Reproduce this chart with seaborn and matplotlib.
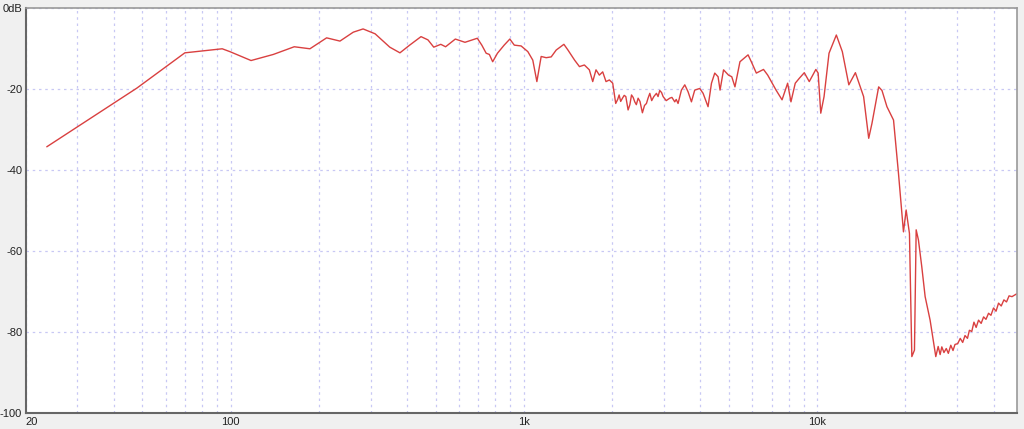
import numpy as np
import pandas as pd
import matplotlib
matplotlib.use("Agg")
import matplotlib.pyplot as plt
from matplotlib.ticker import FixedLocator, FixedFormatter, NullFormatter
import seaborn as sns

#### Données (fréquence en Hz, niveau en dB)
freq = [23.6, 47.9, 69.8, 93.6, 99.4, 117.4, 139.8, 164.8, 186.4, 212.5, 236, 262, 283,
        311, 349, 378, 408, 446, 471, 493, 521, 541, 584, 630, 694, 719, 744, 763,
        783, 813, 857, 896, 928, 979, 1032, 1073, 1108, 1146, 1192, 1240, 1290, 1370,
        1414, 1490, 1548, 1609, 1673, 1718, 1763, 1810, 1858, 1907, 1958, 2010,
        2058, 2090, 2114, 2140, 2170, 2200, 2228, 2268, 2300, 2330, 2360, 2390, 2420,
        2454, 2490, 2538, 2580, 2620, 2650, 2690, 2730, 2776, 2834, 2870, 2908, 2950,
        2986, 3060, 3146, 3200, 3272, 3310, 3358, 3400, 3448, 3540, 3632, 3730, 3828,
        3982, 4088, 4250, 4366, 4480, 4598, 4670, 4800, 4990, 5120, 5250,
        5460, 5820, 5970, 6210, 6570, 6790, 7250, 7600, 7940, 8150, 8430, 8700, 9050,
        9410, 9910, 10090, 10300, 10570, 10990, 11640, 12200, 12840, 13520, 14420,
        15010, 15400, 16230, 16660, 17320, 18240, 18960, 19720, 20140, 20670, 21060,
        21500, 21790, 22180, 22770, 23380, 24310, 25420, 25900, 26300, 26650, 27100,
        27600, 28050, 28600, 29100, 29560, 30200, 30800, 31400, 31980, 32600, 33100,
        33720, 34300, 34900, 35560, 36300, 37000, 37700, 38470, 39200, 40000, 40800,
        41610, 42500, 43400, 44300, 45200, 46240, 48000]
niveau = [-34.2, -19.7, -11.0, -10.0, -10.7, -12.9, -11.4, -9.5, -10.0, -7.3, -8.1, -5.9,
          -5.1, -6.3, -9.6, -11.0, -9.1, -7.0, -7.8, -9.6, -8.9, -9.5, -7.6, -8.4, -7.4,
          -9.1, -11.1, -11.4, -13.2, -11.1, -9.1, -7.6, -9.1, -9.3, -10.7, -12.8, -18.1,
          -11.9, -12.2, -12.0, -10.3, -8.9, -10.3, -12.8, -14.4, -14.0, -15.2, -18.1,
          -15.2, -16.5, -15.7, -18.1, -17.7, -18.5,
          -23.5, -22.5, -21.4, -23.0, -22.2, -21.5, -21.8, -25.1, -23.8, -21.4, -22.0,
          -23.1, -23.8, -22.2, -23.0, -25.8, -24.0, -23.5, -22.3, -21.0, -22.8, -21.8,
          -21.0, -21.8, -20.3, -20.8, -21.8, -22.8, -22.2, -22.0, -23.1, -22.5, -23.5,
          -22.0, -20.2, -18.9, -20.6, -23.1, -20.2, -19.8, -21.0, -24.3, -18.5, -16.0,
          -16.9, -20.2, -15.2, -16.5, -16.9, -19.4,
          -13.2, -11.5, -13.2, -16.0, -15.1, -16.5, -20.2, -22.6, -18.5, -23.1, -18.5,
          -17.3, -15.9, -18.1, -15.1, -16.0, -25.9, -21.8, -11.1, -6.6, -10.7, -18.9,
          -15.9, -21.8, -32.1, -28.4, -19.4, -20.3, -24.3, -27.6, -40.7, -55.2, -49.8,
          -55.6, -86.0, -84.4, -54.7, -57.2, -63.8, -71.2, -77.0, -86.0, -83.5, -85.5,
          -83.6, -85.0, -84.0, -85.2, -83.2, -84.5, -83.0, -82.8, -81.5, -82.5, -80.8,
          -81.5, -79.5, -79.8, -77.5, -78.8, -77.0, -77.8, -76.2, -76.8, -75.3, -75.8,
          -74.0, -74.8, -72.8, -73.5, -72.0, -72.5, -71.0, -71.2, -70.5]

x_ticks = [20, 100, 1000, 10000]
x_labels = ["20", "100", "1k", "10k"]
y_ticks = [-100, -80, -60, -40, -20, 0]
y_labels = ["-100", "-80", "-60", "-40", "-20", "0dB"]

df = pd.DataFrame({"freq": freq, "niveau": niveau})

sns.set_style("white")
plt.rcParams["font.family"] = ["Liberation Sans", "DejaVu Sans"]
fig = plt.figure(figsize=(10.24, 4.29), dpi=100, facecolor="#f0f0f0")
ax = fig.add_axes([0.0251, 0.0366, 0.9678, 0.9441])
ax.set_facecolor("white")

sns.lineplot(data=df, x="freq", y="niveau", ax=ax, color="#d94040",
             linewidth=1.0, estimator=None, sort=False)

ax.set_xscale("log")
ax.set_xlim(20, 48000)
ax.set_ylim(-100, 0)

# Grille en pointillés lavande
minor = [f * 10 ** d for d in range(1, 5) for f in range(2, 10) if f * 10 ** d < 48000]
ax.xaxis.set_major_locator(FixedLocator(x_ticks))
ax.xaxis.set_major_formatter(FixedFormatter(x_labels))
ax.xaxis.set_minor_locator(FixedLocator(minor))
ax.xaxis.set_minor_formatter(NullFormatter())
ax.set_yticks(y_ticks)
ax.set_yticklabels(y_labels)

grid_kw = dict(color="#c8c8f4", linestyle=(0, (2, 3)), linewidth=0.9)
ax.grid(True, which="both", axis="x", **grid_kw)
ax.grid(True, which="major", axis="y", **grid_kw)

ax.tick_params(axis="both", which="both", direction="out", length=2, width=1,
               color="#555555", labelsize=8, labelcolor="#222222", pad=0.5)
ax.get_xticklabels()[0].set_horizontalalignment("left")

for side in ["left", "bottom"]:
    ax.spines[side].set_color("#666666")
    ax.spines[side].set_linewidth(1.5)
for side in ["top", "right"]:
    ax.spines[side].set_color("#999999")
    ax.spines[side].set_linewidth(1.2)

ax.set_xlabel("")
ax.set_ylabel("")

plt.savefig("out.png", dpi=100, facecolor=fig.get_facecolor())
